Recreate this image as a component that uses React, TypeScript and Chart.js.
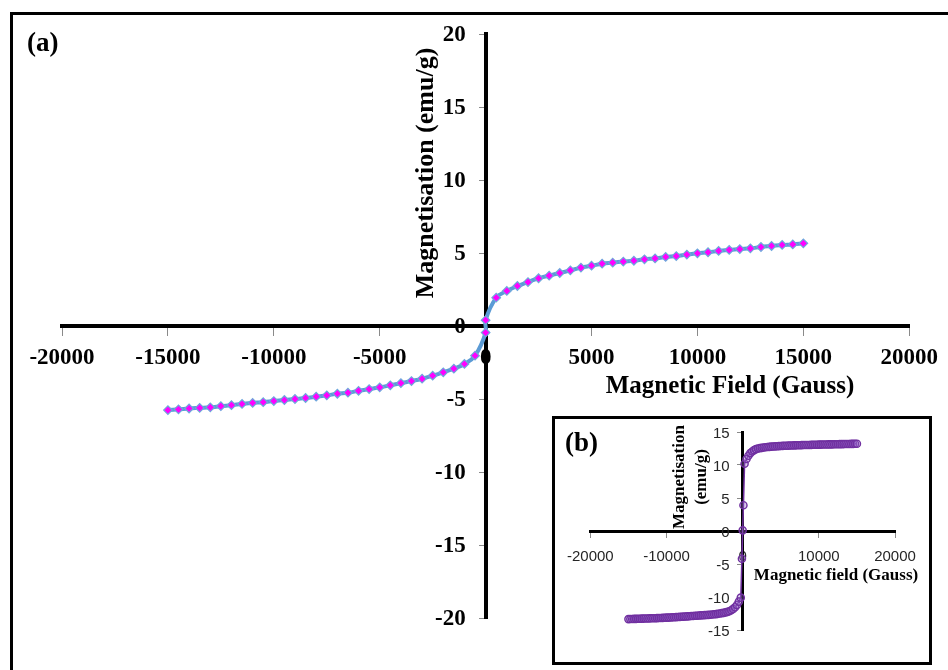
import React, { useEffect, useRef } from "react";
import { Chart, registerables } from "chart.js";

Chart.register(...registerables);

// ---------- main chart (a) ----------
const mainField = [
  -15000, -14500, -14000, -13500, -13000, -12500, -12000, -11500, -11000, -10500,
  -10000, -9500, -9000, -8500, -8000, -7500, -7000, -6500, -6000, -5500,
  -5000, -4500, -4000, -3500, -3000, -2500, -2000, -1500, -1000, -500,
  0, 0,
  500, 1000, 1500, 2000, 2500, 3000, 3500, 4000, 4500, 5000,
  5500, 6000, 6500, 7000, 7500, 8000, 8500, 9000, 9500, 10000,
  10500, 11000, 11500, 12000, 12500, 13000, 13500, 14000, 14500, 15000,
];
const mainMag = [
  -5.76, -5.71, -5.65, -5.61, -5.57, -5.49, -5.42, -5.34, -5.27, -5.22,
  -5.14, -5.07, -5.0, -4.93, -4.84, -4.75, -4.64, -4.57, -4.44, -4.32,
  -4.2, -4.06, -3.91, -3.77, -3.61, -3.4, -3.17, -2.92, -2.6, -2.03,
  -0.45, 0.4,
  1.94, 2.4, 2.74, 3.01, 3.27, 3.45, 3.63, 3.81, 4.0, 4.13,
  4.27, 4.34, 4.41, 4.47, 4.57, 4.63, 4.73, 4.79, 4.89, 4.98,
  5.05, 5.14, 5.21, 5.27, 5.32, 5.41, 5.48, 5.55, 5.59, 5.66,
];
const mainXRange = [-20000, 20000];
const mainXStep = 5000;
const mainYRange = [-20, 20];
const mainYStep = 5;

// ---------- inset chart (b) ----------
const insetField = [
  -15000, -14750, -14500, -14250, -14000, -13750, -13500, -13250, -13000, -12750,
  -12500, -12250, -12000, -11750, -11500, -11250, -11000, -10750, -10500, -10250,
  -10000, -9750, -9500, -9250, -9000, -8750, -8500, -8250, -8000, -7750,
  -7500, -7250, -7000, -6750, -6500, -6250, -6000, -5750, -5500, -5250,
  -5000, -4750, -4500, -4250, -4000, -3750, -3500, -3250, -3000, -2750,
  -2500, -2250, -2000, -1750, -1500, -1250, -1000, -750, -500, -250,
  -100, 0, 100,
  250, 500, 750, 1000, 1250, 1500, 1750, 2000, 2250, 2500,
  2750, 3000, 3250, 3500, 3750, 4000, 4250, 4500, 4750, 5000,
  5250, 5500, 5750, 6000, 6250, 6500, 6750, 7000, 7250, 7500,
  7750, 8000, 8250, 8500, 8750, 9000, 9250, 9500, 9750, 10000,
  10250, 10500, 10750, 11000, 11250, 11500, 11750, 12000, 12250, 12500,
  12750, 13000, 13250, 13500, 13750, 14000, 14250, 14500, 14750, 15000,
];
const insetMag = [
  -13.35, -13.34, -13.33, -13.32, -13.31, -13.3, -13.29, -13.28, -13.27, -13.26,
  -13.25, -13.24, -13.23, -13.22, -13.21, -13.2, -13.19, -13.18, -13.16, -13.15,
  -13.13, -13.12, -13.1, -13.08, -13.07, -13.05, -13.03, -13.01, -12.99, -12.97,
  -12.95, -12.93, -12.91, -12.89, -12.87, -12.85, -12.83, -12.81, -12.79, -12.77,
  -12.75, -12.73, -12.71, -12.68, -12.65, -12.62, -12.59, -12.55, -12.5, -12.45,
  -12.4, -12.33, -12.25, -12.15, -12.0, -11.8, -11.55, -11.2, -10.7, -10.1,
  -4.2, 0.1, 3.9,
  10.2, 10.9, 11.4, 11.8, 12.05, 12.25, 12.4, 12.5, 12.55, 12.6,
  12.65, 12.7, 12.72, 12.75, 12.78, 12.8, 12.82, 12.85, 12.86, 12.88,
  12.9, 12.91, 12.92, 12.93, 12.95, 12.96, 12.97, 12.98, 12.99, 13.0,
  13.01, 13.02, 13.03, 13.04, 13.04, 13.05, 13.06, 13.07, 13.07, 13.08,
  13.09, 13.1, 13.1, 13.11, 13.12, 13.12, 13.13, 13.14, 13.14, 13.15,
  13.16, 13.16, 13.17, 13.18, 13.18, 13.19, 13.2, 13.2, 13.21, 13.22,
];
const insetXRange = [-20000, 20000];
const insetXStep = 10000;
const insetYRange = [-15, 15];
const insetYStep = 5;

const SERIF = '"Liberation Serif", "Times New Roman", serif';
const SANS = '"Liberation Sans", Arial, sans-serif';

type TextItem = { text: string; x: number; y: number; font: string; align?: CanvasTextAlign; rotate?: number };

function textPlugin(id: string, items: TextItem[]) {
  return {
    id,
    afterDraw(chart: any) {
      const ctx = chart.ctx as CanvasRenderingContext2D;
      for (const t of items) {
        ctx.save();
        ctx.font = t.font;
        ctx.fillStyle = "#000";
        ctx.textAlign = t.align || "center";
        ctx.textBaseline = "middle";
        ctx.translate(t.x, t.y);
        if (t.rotate) ctx.rotate(t.rotate);
        ctx.fillText(t.text, 0, 0);
        ctx.restore();
      }
    },
  };
}

// y-axis tick labels placed to the left of the centred axis, using the scale's own ticks
function yLabelPlugin(id: string, gap: number, font: string, color: string, dy: number) {
  return {
    id,
    afterDraw(chart: any) {
      const ctx = chart.ctx as CanvasRenderingContext2D;
      const ys = chart.scales.y;
      const xs = chart.scales.x;
      const x0 = xs.getPixelForValue(0) - gap;
      ctx.save();
      ctx.font = font;
      ctx.fillStyle = color;
      ctx.textAlign = "right";
      ctx.textBaseline = "middle";
      for (const t of ys.ticks) {
        ctx.fillText(String(t.value), x0, ys.getPixelForValue(t.value) + dy);
      }
      ctx.restore();
    },
  };
}

const fmt = (v: any) => String(v);

export default function App() {
  const mainRef = useRef<HTMLCanvasElement>(null);
  const insetRef = useRef<HTMLCanvasElement>(null);

  useEffect(() => {
    const main = new Chart(mainRef.current!, {
      type: "scatter",
      data: {
        datasets: [
          {
            data: mainField.map((x, i) => ({ x, y: mainMag[i] })),
            showLine: true,
            borderColor: "#5B9BD5",
            borderWidth: 4,
            tension: 0.4,
            pointStyle: "rectRot",
            pointRadius: 4.3,
            pointBackgroundColor: "#FF00FF",
            pointBorderColor: "#6FA8DC",
            pointBorderWidth: 1.2,
          },
        ],
      },
      options: {
        responsive: false,
        animation: false,
        devicePixelRatio: 1,
        layout: { padding: { left: 62, right: 38, top: 34, bottom: 52 } },
        plugins: { legend: { display: false }, tooltip: { enabled: false } },
        scales: {
          x: {
            type: "linear",
            position: { y: 0 } as any,
            min: mainXRange[0],
            max: mainXRange[1],
            ticks: {
              stepSize: mainXStep,
              autoSkip: false,
              maxRotation: 0,
              padding: 10,
              color: "#000",
              font: { family: SERIF, size: 23, weight: "bold" },
              callback: fmt,
            },
            grid: { drawOnChartArea: false, drawTicks: true, tickLength: 8, color: "#8a8a8a", lineWidth: 1 },
            border: { display: true, color: "#000", width: 4 },
          },
          y: {
            type: "linear",
            position: { x: 0 } as any,
            min: mainYRange[0],
            max: mainYRange[1],
            ticks: {
              display: false,
              stepSize: mainYStep,
              autoSkip: false,
              callback: fmt,
            },
            grid: { drawOnChartArea: false, drawTicks: true, tickLength: 5, color: "#8a8a8a", lineWidth: 1 },
            border: { display: true, color: "#000", width: 4 },
          },
        },
      },
      plugins: [
        yLabelPlugin("mainYLabels", 20, `bold 23px ${SERIF}`, "#000", 1),
        textPlugin("mainText", [
          { text: "(a)", x: 27, y: 44, font: `bold 27px ${SERIF}`, align: "left" },
          { text: "Magnetisation (emu/g)", x: 426, y: 173, font: `bold 26px ${SERIF}`, rotate: -Math.PI / 2 },
          { text: "Magnetic Field (Gauss)", x: 730, y: 387, font: `bold 25px ${SERIF}` },
        ]),
      ],
    } as any);

    const inset = new Chart(insetRef.current!, {
      type: "scatter",
      data: {
        datasets: [
          {
            data: insetField.map((x, i) => ({ x, y: insetMag[i] })),
            showLine: true,
            borderColor: "#7030A0",
            borderWidth: 1.5,
            tension: 0,
            pointStyle: "circle",
            pointRadius: 3.6,
            pointBackgroundColor: "rgba(150,100,200,0.35)",
            pointBorderColor: "#7030A0",
            pointBorderWidth: 1.4,
          },
        ],
      },
      options: {
        responsive: false,
        animation: false,
        devicePixelRatio: 1,
        layout: { padding: { left: 35, right: 34, top: 13, bottom: 32 } },
        plugins: { legend: { display: false }, tooltip: { enabled: false } },
        scales: {
          x: {
            type: "linear",
            position: { y: 0 } as any,
            min: insetXRange[0],
            max: insetXRange[1],
            ticks: {
              stepSize: insetXStep,
              autoSkip: false,
              maxRotation: 0,
              padding: 12,
              color: "#262626",
              font: { family: SANS, size: 15 },
              callback: fmt,
            },
            grid: { drawOnChartArea: false, drawTicks: true, tickLength: 5, color: "#8a8a8a", lineWidth: 1 },
            border: { display: true, color: "#000", width: 3 },
          },
          y: {
            type: "linear",
            position: { x: 0 } as any,
            min: insetYRange[0],
            max: insetYRange[1],
            ticks: {
              display: false,
              stepSize: insetYStep,
              autoSkip: false,
              callback: fmt,
            },
            grid: { drawOnChartArea: false, drawTicks: true, tickLength: 4, color: "#8a8a8a", lineWidth: 1 },
            border: { display: true, color: "#000", width: 3 },
          },
        },
      },
      plugins: [
        yLabelPlugin("insetYLabels", 13, `15px ${SANS}`, "#262626", 2),
        textPlugin("insetText", [
          { text: "(b)", x: 10, y: 25, font: `bold 27px ${SERIF}`, align: "left" },
          { text: "Magnetisation", x: 125, y: 58, font: `bold 17px ${SERIF}`, rotate: -Math.PI / 2 },
          { text: "(emu/g)", x: 147, y: 58, font: `bold 17px ${SERIF}`, rotate: -Math.PI / 2 },
          { text: "Magnetic field (Gauss)", x: 281, y: 157, font: `bold 17px ${SERIF}` },
        ]),
      ],
    } as any);

    return () => {
      main.destroy();
      inset.destroy();
    };
  }, []);

  return (
    <div
      style={{
        position: "fixed",
        left: 0,
        top: 0,
        width: 948,
        height: 670,
        overflow: "hidden",
        background: "#fff",
      }}
    >
      <div
        style={{
          position: "absolute",
          left: 10,
          top: 12,
          width: 960,
          height: 700,
          border: "3px solid #000",
          boxSizing: "border-box",
        }}
      />
      <canvas
        ref={mainRef}
        width={948}
        height={670}
        style={{ position: "absolute", left: 0, top: 0, width: 948, height: 670 }}
      />
      <div
        style={{
          position: "absolute",
          left: 552,
          top: 416,
          width: 380,
          height: 249,
          border: "3px solid #000",
          boxSizing: "border-box",
          background: "#fff",
        }}
      >
        <canvas ref={insetRef} width={374} height={243} style={{ display: "block", width: 374, height: 243 }} />
      </div>
    </div>
  );
}
